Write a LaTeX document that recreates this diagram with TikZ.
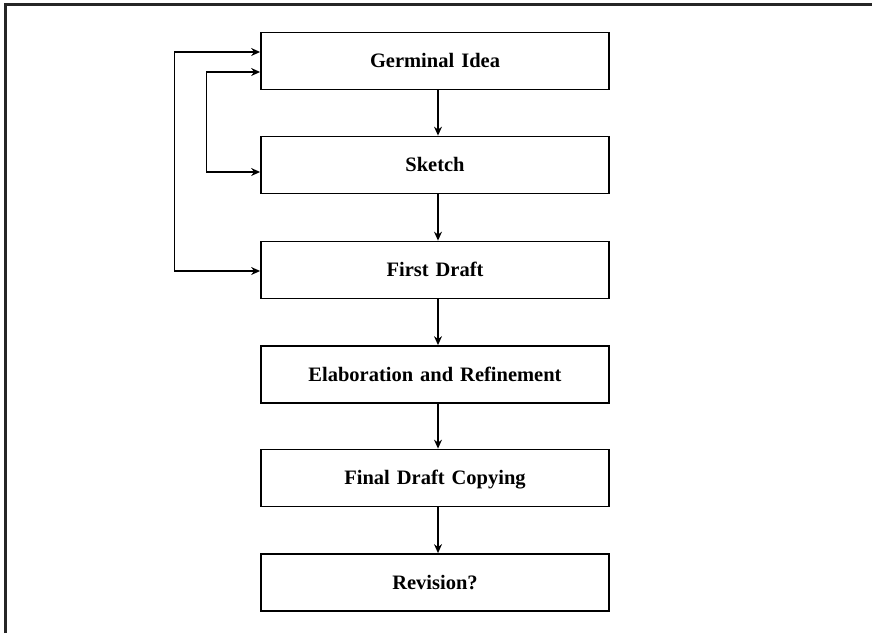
\documentclass[tikz,border=0pt]{standalone}
\usepackage{fontspec}
\setmainfont{Liberation Serif}
\usetikzlibrary{arrows.meta}
\newcommand\stagefont{\fontsize{20.5}{24}\selectfont\bfseries\spaceskip=7pt plus 1pt\relax}
\begin{document}
\begin{tikzpicture}[x=1pt,y=-1pt,
  stagebox/.style={draw, line width=1.8pt, minimum width=348pt, minimum height=57pt,
    inner sep=0pt, text height=13.5pt, text depth=0pt, font=\stagefont},
  flowtip/.tip={Stealth[length=9pt,width=8pt,inset=3pt]},
  flow/.style={line width=1.2pt, -{flowtip}},
  loop/.style={line width=1.2pt, {flowtip}-{flowtip}}]
  \useasboundingbox (0,0) rectangle (872,633);
  % partial frame: left and top rules
  \draw[line width=2.2pt, black!85] (5.5,633) -- (5.5,4.5) -- (872,4.5);

  \node[stagebox] (G)  at (435,61)    {Germinal Idea};
  \node[stagebox] (S)  at (435,165)   {Sketch};
  \node[stagebox] (F)  at (435,270)   {First Draft};
  \node[stagebox] (E)  at (435,374.5) {Elaboration and Refinement};
  \node[stagebox] (FD) at (435,478)   {Final Draft Copying};
  \node[stagebox] (R)  at (435,582.5) {Revision?};

  % main sequence
  \draw[flow] ([xshift=3pt]G.south)  -- ([xshift=3pt]S.north);
  \draw[flow] ([xshift=3pt]S.south)  -- ([xshift=3pt]F.north);
  \draw[flow] ([xshift=3pt]F.south)  -- ([xshift=3pt]E.north);
  \draw[flow] ([xshift=3pt]E.south)  -- ([xshift=3pt]FD.north);
  \draw[flow] ([xshift=3pt]FD.south) -- ([xshift=3pt]R.north);

  % feedback loops (yshift is in page units, upward positive)
  \draw[loop] ([yshift=-1pt]F.west) -- ++(-86,0) |- ([yshift=9pt]G.west);
  \draw[loop] ([yshift=-7pt]S.west) -- ++(-54,0) |- ([yshift=-11pt]G.west);
\end{tikzpicture}
\end{document}
